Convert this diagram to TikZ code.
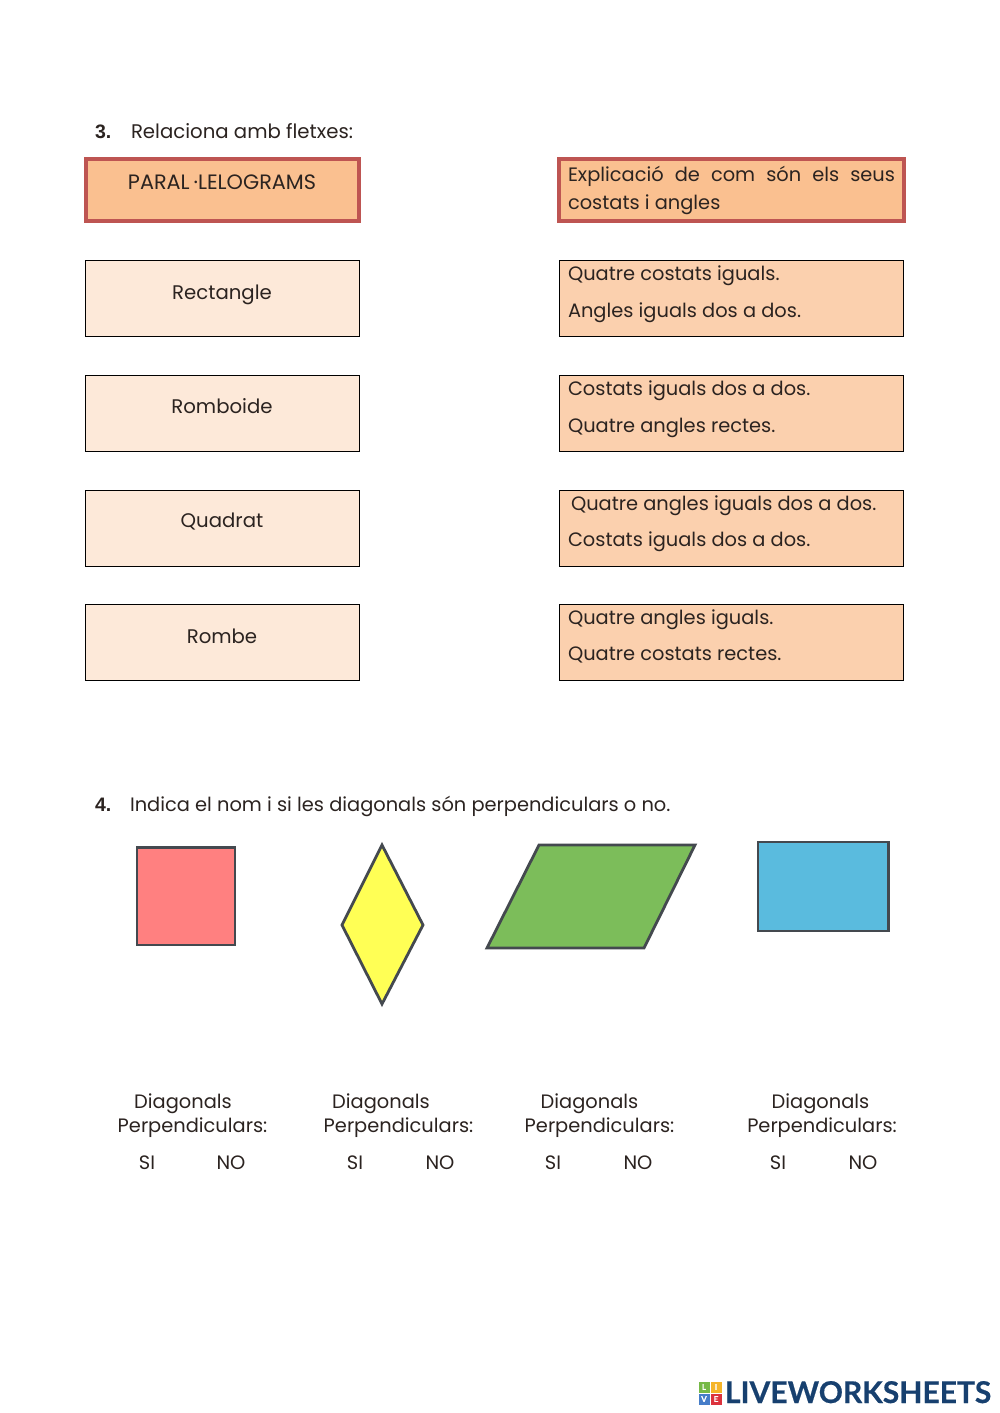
\documentclass[tikz,border=0pt]{standalone}
\usepackage{fontspec}
\setmainfont{Poppins}[Scale=1]
\newfontfamily\lsans{Liberation Sans}
\newfontfamily\logof{Lato}[BoldFeatures={FakeBold=0.5}]
\definecolor{hdfill}{HTML}{FAC090}
\definecolor{hdline}{HTML}{BE5552}
\definecolor{lfill}{HTML}{FDE9D9}
\definecolor{rfill}{HTML}{FBD0AE}
\definecolor{txt}{HTML}{2B2320}
\definecolor{shline}{HTML}{44494F}
\definecolor{logoblue}{HTML}{17406F}
\tikzset{
  x=1pt,y=-1pt,
  every node/.style={inner sep=0pt,outer sep=0pt,text=txt},
  hdbox/.style={draw=hdline,fill=hdfill,line width=4pt},
  lbox/.style={draw=black,fill=lfill,line width=0.9pt},
  rbox/.style={draw=black,fill=rfill,line width=0.9pt},
  shapeline/.style={draw=shline,line width=2.8pt,line join=miter},
  t/.style={anchor=base west,font=\fontsize{19.4}{22}\selectfont},
  c/.style={anchor=base,font=\fontsize{19.4}{22}\selectfont},
  lab/.style={anchor=base,font=\fontsize{19.7}{22}\selectfont},
  num/.style={anchor=base west,font=\fontsize{19.5}{22}\lsans\bfseries},
  sq/.style={minimum size=11pt,text=white,font=\fontsize{8}{8}\logof\bfseries},
}
\begin{document}
\begin{tikzpicture}
\useasboundingbox[fill=white] (0,0) rectangle (1000,1413);
% exercise 3
\node[num] (n3) at (95,138) {3.};
\node[t,font=\fontsize{19.7}{22}\selectfont] (q3) at (131,138) {Relaciona amb fletxes:};
\path[hdbox] (86,158.5) rectangle (359,220.5);
\path[hdbox] (559,158.5) rectangle (904,220.5);
\node[lab,font=\fontsize{20.8}{22}\selectfont] (h1) at (222,189) {PARAL\kern4pt·LELOGRAMS};
\node[t] (h2a) at (568,181) {\makebox[327pt][s]{Explicació de com són els seus}};
\node[t] (h2b) at (568,209) {costats i angles};
\foreach \y/\txtlab/\by in {260/Rectangle/299,375/Romboide/413,490/Quadrat/527,604/Rombe/643}{
  \path[lbox] (85.5,\y) rectangle (359,\y+76);
  \path[rbox] (559,\y) rectangle (903.5,\y+76);
  \node[lab] at (222,\by) {\txtlab};
}
\node[t] at (568,280.5) {Quatre costats iguals.};
\node[t] at (568,317.5) {Angles iguals dos a dos.};
\node[t] at (568,395) {Costats iguals dos a dos.};
\node[t] at (568,432) {Quatre angles rectes.};
\node[t] at (571,510) {Quatre angles iguals dos a dos.};
\node[t] at (568,546) {Costats iguals dos a dos.};
\node[t] at (568,624.5) {Quatre angles iguals.};
\node[t] at (568,660.5) {Quatre costats rectes.};
% exercise 4
\node[num] (n4) at (95,811) {4.};
\node[t] (q4) at (130,811) {Indica el nom i si les diagonals són perpendiculars o no.};
\path[shapeline,fill={rgb,255:red,255;green,128;blue,128}] (137,847.5) rectangle (235,945);
\path[shapeline,fill={rgb,255:red,255;green,255;blue,85}] (382,845) -- (423,925) -- (382,1004) -- (342,925) -- cycle;
\path[shapeline,fill={rgb,255:red,124;green,189;blue,90}] (539,845) -- (695,845) -- (644,948) -- (487,948) -- cycle;
\path[shapeline,fill={rgb,255:red,90;green,187;blue,222}] (758,842) -- (888.5,842) -- (888.5,931) -- (758,931) -- cycle;
\foreach \a/\b/\s/\n in {183/192.5/147/231,381/398.5/355/440,589.5/599.5/553/638,820.5/822/778/863}{
  \node[c] at (\a,1108) {Diagonals};
  \node[c] at (\b,1132) {Perpendiculars:};
  \node[c] at (\s,1169) {SI};
  \node[c] at (\n,1169) {NO};
}
% logo
\node[sq,fill={rgb,255:red,118;green,185;blue,71}] (l1) at (704,1387) {L};
\node[sq,fill={rgb,255:red,245;green,180;blue,40}] (l2) at (716,1387) {I};
\node[sq,fill={rgb,255:red,70;green,125;blue,200}] (l3) at (704,1399) {V};
\node[sq,fill={rgb,255:red,220;green,50;blue,60}] (l4) at (716,1399) {E};
\node[anchor=base west,text=logoblue,font=\fontsize{30}{30}\logof\bfseries] (logo) at (725,1403) {LIVEWORKSHEETS};
\end{tikzpicture}
\end{document}
